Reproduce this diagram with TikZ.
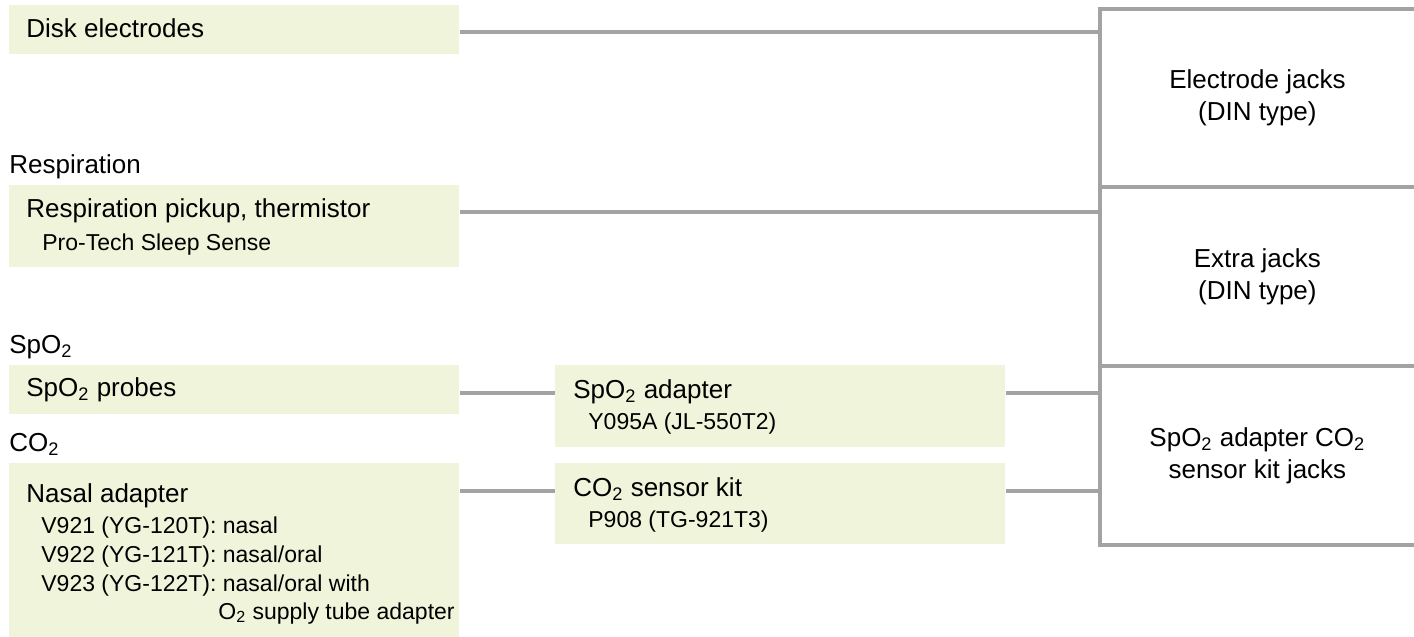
\documentclass[tikz,border=0pt]{standalone}
\usepackage{fontspec}
\setmainfont{Liberation Sans}
\usetikzlibrary{positioning}
\definecolor{PadGreen}{RGB}{240,244,218}
\definecolor{WireGray}{RGB}{163,163,163}
\newcommand{\two}{\textsubscript{2}}

\begin{document}
\begin{tikzpicture}[x=0.5pt,y=-0.5pt,
    pad/.style={fill=PadGreen,inner sep=0pt,anchor=north west},
    big/.style={inner sep=0pt,anchor=base west,font=\fontsize{13}{16}\selectfont},
    small/.style={inner sep=0pt,anchor=base west,font=\fontsize{11.5}{14.5}\selectfont},
    jack/.style={inner sep=0pt,minimum width=157pt,minimum height=89pt,align=center,font=\fontsize{13}{16}\selectfont},
    wire/.style={WireGray,line width=2pt}]
            \useasboundingbox (0,0) rectangle (1414,637);
            %% Pads on the left
            \node[pad,minimum width=225pt,minimum height=24.5pt] (disk) at (9,5) {};
            \node[pad,minimum width=225pt,minimum height=41pt] (resp) at (9,185) {};
            \node[pad,minimum width=225pt,minimum height=24.5pt] (probe) at (9,365) {};
            \node[pad,minimum width=225pt,minimum height=87pt] (nasal) at (9,463) {};
            %% Adapters in the middle
            \node[pad,minimum width=225pt,minimum height=41pt] (adapt) at (555,365) {};
            \node[pad,minimum width=225pt,minimum height=40.5pt] (kit) at (555,463) {};
            %% Group labels
            \node[big] (resp-l) at (9,173) {Respiration};
            \node[big] (spo-l) at (9,353) {SpO\two};
            \node[big] (co-l) at (9,451) {CO\two};
            %% Texts in the pads
            \node[big] (disk-t) at (26,37) {Disk electrodes};
            \node[big] (resp-t) at (26,217) {Respiration pickup, thermistor};
            \node[small] (resp-s) at (42,250) {Pro-Tech Sleep Sense};
            \node[big] (probe-t) at (26,396) {SpO\two{} probes};
            \node[big] (nasal-t) at (26,502) {Nasal adapter};
            \node[small] (nasal-a) at (41,533) {V921 (YG-120T): nasal};
            \node[small] (nasal-b) at (41,562) {V922 (YG-121T): nasal/oral};
            \node[small] (nasal-c) at (41,591) {V923 (YG-122T): nasal/oral with};
            \node[small] (nasal-d) at (218,619) {O\two{} supply tube adapter};
            \node[big] (adapt-t) at (573,398) {SpO\two{} adapter};
            \node[small] (adapt-s) at (588,429) {Y095A (JL-550T2)};
            \node[big] (kit-t) at (573,496) {CO\two{} sensor kit};
            \node[small] (kit-s) at (588,527) {P908 (TG-921T3)};
            %% Jacks on the right
            \node[jack,anchor=north west] (elec) at (1100,8.5) {Electrode jacks\\(DIN type)};
            \node[jack,below=0pt of elec] (extra) {Extra jacks\\(DIN type)};
            \node[jack,below=0pt of extra] (sens) {SpO\two{} adapter CO\two\\sensor kit jacks};
            \draw[wire] (elec.north east) -- (elec.north west) -- (sens.south west) -- (sens.south east);
            \draw[wire] (elec.south west) -- (elec.south east);
            \draw[wire] (extra.south west) -- (extra.south east);
            %% Cables
            \draw[wire] (disk.east |- disk-t.mid) -- (disk-t.mid -| elec.west);
            \draw[wire] (resp.east |- resp-t.mid) -- (resp-t.mid -| elec.west);
            \draw[wire] (probe.east |- adapt-t.mid) -- (adapt.west |- adapt-t.mid);
            \draw[wire] (adapt.east |- adapt-t.mid) -- (adapt-t.mid -| sens.west);
            \draw[wire] (nasal.east |- kit-t.mid) -- (kit.west |- kit-t.mid);
            \draw[wire] (kit.east |- kit-t.mid) -- (kit-t.mid -| sens.west);
\end{tikzpicture}
\end{document}
